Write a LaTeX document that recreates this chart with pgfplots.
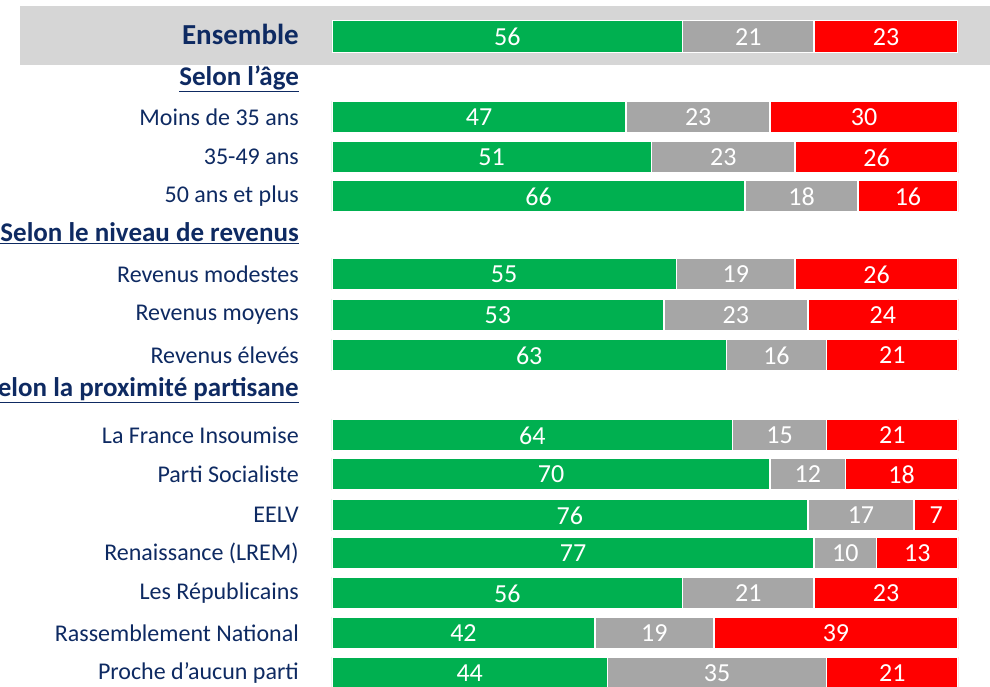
\documentclass[border=0pt]{standalone}
\usepackage{fontspec}
\setmainfont{Carlito}
\usepackage{pgfplots}
\usepackage{pgfplotstable}
\pgfplotsset{compat=1.18}
\definecolor{cgreen}{HTML}{00B050}
\definecolor{cgrey}{HTML}{A6A6A6}
\definecolor{cred}{HTML}{FF0000}
\definecolor{navy}{HTML}{0E2A62}
\definecolor{band}{HTML}{D6D6D6}

% y = minus the row centre (in pt from the top of the picture)
\pgfplotstableread{
y       g   s   r
-36.5   56  21  23
-117    47  23  30
-157    51  23  26
-196    66  18  16
-274    55  19  26
-315    53  23  24
-355    63  16  21
-435    64  15  21
-474    70  12  18
-515    76  17  7
-553    77  10  13
-593    56  21  23
-633    42  19  39
-673    44  35  21
}\datatable

\newcommand{\lab}[1]{{\fontsize{24}{27}\selectfont #1}}
\newcommand{\head}[1]{{\fontsize{27}{30}\selectfont\bfseries\underline{#1}}}

\begin{document}
\begin{tikzpicture}
\useasboundingbox (0,0) rectangle (990pt,687pt);
\fill[band] (20pt,622pt) rectangle (990pt,681pt);
\pgfplotsset{
  common/.style={
    scale only axis, width=626pt, height=687pt,
    xmin=0, xmax=100, ymin=-687, ymax=0,
    at={(332pt,0pt)}, anchor=south west,
  }
}
\begin{axis}[
  common,
  xbar stacked, bar width=32,
  axis line style={draw=none}, tick style={draw=none},
  xtick=\empty,
  ytick={-34,-79,-117,-157,-196,-233,-274,-315,-355,-390,-435,-474,-515,-553,-593,-633,-673},
  yticklabels={
    {\fontsize{29}{32}\selectfont\bfseries Ensemble},
    \head{Selon l’âge},
    \lab{Moins de 35 ans},
    \lab{35-49 ans},
    \lab{50 ans et plus},
    \head{Selon le niveau de revenus},
    \lab{Revenus modestes},
    \lab{Revenus moyens},
    \lab{Revenus élevés},
    \head{Selon la proximité partisane},
    \lab{La France Insoumise},
    \lab{Parti Socialiste},
    \lab{EELV},
    \lab{Renaissance (LREM)},
    \lab{Les Républicains},
    \lab{Rassemblement National},
    \lab{Proche d’aucun parti}
  },
  yticklabel style={anchor=east, inner sep=0pt, xshift=-33pt, text=navy},
]
\addplot[fill=cgreen, draw=white, line width=1.5pt] table[x=g, y=y] {\datatable};
\addplot[fill=cgrey,  draw=white, line width=1.5pt] table[x=s, y=y] {\datatable};
\addplot[fill=cred,   draw=white, line width=1.5pt] table[x=r, y=y] {\datatable};
\end{axis}
\begin{axis}[
  common, hide axis,
  nodes near coords,
  /pgf/number format/assume math mode=true,
  every node near coord/.append style={anchor=center, text=white,
     font=\fontsize{26}{29}\selectfont, yshift=-0.5pt},
]
\addplot[draw=none, mark=none, point meta=\thisrow{g}] table[x expr=\thisrow{g}/2, y=y] {\datatable};
\addplot[draw=none, mark=none, point meta=\thisrow{s}] table[x expr=\thisrow{g}+\thisrow{s}/2, y=y] {\datatable};
\addplot[draw=none, mark=none, point meta=\thisrow{r}] table[x expr=\thisrow{g}+\thisrow{s}+\thisrow{r}/2, y=y] {\datatable};
\end{axis}
\end{tikzpicture}
\end{document}
